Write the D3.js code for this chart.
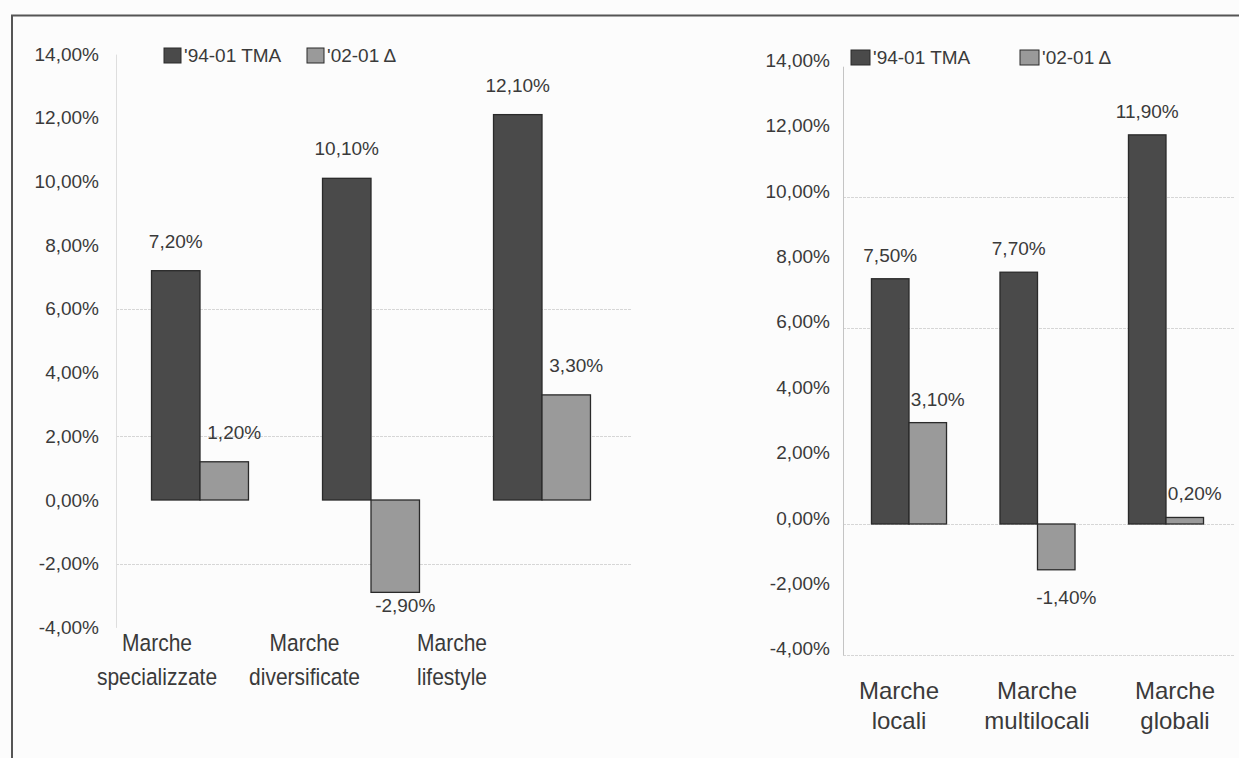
<!DOCTYPE html>
<html>
<head>
<meta charset="utf-8">
<script src="https://cdn.jsdelivr.net/npm/d3@7"></script>
<style>
  html, body { margin: 0; padding: 0; background: #fcfcfc; }
  svg { display: block; }
  text { font-family: "Liberation Sans", Arial, Helvetica, sans-serif; fill: #3a3a3a; }
</style>
</head>
<body>
<svg id="chart" width="1239" height="758"></svg>
<script>
// Series shown in both panels
const seriesNames = ["'94-01 TMA", "'02-01 \u0394"];
const seriesFill = ["#4a4a4a", "#9a9a9a"];

// Left panel: brand types by specialisation
const leftCategories = [["Marche", "specializzate"], ["Marche", "diversificate"], ["Marche", "lifestyle"]];
const leftTMA = [7.2, 10.1, 12.1];
const leftDelta = [1.2, -2.9, 3.3];

// Right panel: brand types by geographic reach
const rightCategories = [["Marche", "locali"], ["Marche", "multilocali"], ["Marche", "globali"]];
const rightTMA = [7.5, 7.7, 11.9];
const rightDelta = [3.1, -1.4, 0.2];

// Y axis ticks (percent)
const tickValues = [14, 12, 10, 8, 6, 4, 2, 0, -2, -4];
const leftGrid = [6, 2, -2];
const rightGrid = [10, 6, 0, -4];

const itLocale = d3.formatLocale({decimal: ",", thousands: ".", grouping: [3], currency: ["\u20ac", ""], minus: "-"});
const fmt2 = itLocale.format(".2f");
const pct = v => fmt2(v) + "%";

const svg = d3.select("#chart");

// Page frame
svg.append("line").attr("x1", 11).attr("x2", 1239).attr("y1", 15.5).attr("y2", 15.5)
  .attr("stroke", "#555").attr("stroke-width", 2);
svg.append("line").attr("x1", 12).attr("x2", 12).attr("y1", 15).attr("y2", 758)
  .attr("stroke", "#555").attr("stroke-width", 2);

function drawPanel(cfg) {
  const cats = cfg.categories.map(c => c.join(" "));
  const rows = cats.map((c, i) => ({cat: c, values: [cfg.tma[i], cfg.delta[i]]}));

  const y = d3.scaleLinear().domain([-4, 14]).range(cfg.yRange);
  const x = d3.scaleBand().domain(cats).range(cfg.xRange)
    .paddingInner(cfg.padInner).paddingOuter(cfg.padInner / 2);
  const xs = d3.scaleBand().domain(d3.range(seriesNames.length)).range([0, x.bandwidth()]);
  const xLabel = d3.scalePoint().domain(cats).range(cfg.labelRange);

  const g = svg.append("g");

  // faint gridlines
  g.selectAll("line.grid").data(cfg.grid).join("line")
    .attr("class", "grid")
    .attr("x1", cfg.axisX).attr("x2", cfg.xRange[1] + 4)
    .attr("y1", d => Math.round(y(d)) + 0.5).attr("y2", d => Math.round(y(d)) + 0.5)
    .attr("stroke", "#d6d6d6").attr("stroke-width", 1).attr("stroke-dasharray", "3,1");

  // y axis
  const axis = d3.axisLeft(y).tickValues(tickValues).tickFormat(pct)
    .tickSize(0).tickPadding(cfg.tickPad);
  const ag = g.append("g").attr("transform", `translate(${cfg.axisX},0)`).call(axis);
  ag.select(".domain").attr("stroke", cfg.axisColor).attr("stroke-width", 1);
  ag.selectAll("text").attr("font-size", 19).attr("fill", "#444")
    .attr("font-family", null).attr("dy", cfg.tickDy);

  // bars
  const grp = g.selectAll("g.cat").data(rows).join("g")
    .attr("class", "cat").attr("transform", d => `translate(${x(d.cat)},0)`);
  grp.selectAll("rect").data(d => d.values.map((v, i) => ({v, i}))).join("rect")
    .attr("x", d => xs(d.i))
    .attr("width", xs.bandwidth())
    .attr("y", d => y(Math.max(0, d.v)))
    .attr("height", d => Math.abs(y(d.v) - y(0)))
    .attr("fill", d => seriesFill[d.i])
    .attr("stroke", "#2a2a2a").attr("stroke-width", 1.3);

  // value labels
  grp.selectAll("text.val").data(d => d.values.map((v, i) => ({v, i}))).join("text")
    .attr("class", "val")
    .attr("text-anchor", "middle")
    .attr("font-size", 19)
    .attr("x", d => xs(d.i) + xs.bandwidth() / 2 + cfg.valDx[d.i])
    .attr("y", d => d.v >= 0 ? y(d.v) - cfg.gapPos : y(d.v) + cfg.gapNeg)
    .text(d => pct(d.v));

  // category labels (two lines each)
  const cl = g.selectAll("text.cat").data(cfg.categories).join("text")
    .attr("class", "cat")
    .attr("text-anchor", "middle")
    .attr("font-size", cfg.catSize)
    .attr("transform", (d, i) => `translate(${xLabel(cats[i])},${cfg.catY}) scale(1,${cfg.catStretch})`);
  cl.selectAll("tspan").data(d => d).join("tspan")
    .attr("x", 0)
    .attr("y", (d, j) => j * cfg.catLine / cfg.catStretch)
    .text(d => d);

  // legend
  const lg = g.selectAll("g.leg").data(seriesNames).join("g")
    .attr("class", "leg")
    .attr("transform", (d, i) => `translate(${cfg.legendX[i]},${cfg.legendY})`);
  lg.append("rect").attr("x", 0).attr("y", -14).attr("width", cfg.swatchW).attr("height", 15)
    .attr("fill", (d, i) => seriesFill[i]).attr("stroke", "#2a2a2a").attr("stroke-width", 1);
  lg.append("text").attr("x", cfg.swatchW + 3).attr("y", 0).attr("font-size", 19).text(d => d);
}

drawPanel({
  categories: leftCategories, tma: leftTMA, delta: leftDelta,
  yRange: [500 + 4 * 31.85, 500 - 14 * 31.85],
  xRange: [114.5, 627.5], padInner: 0.433,
  labelRange: [157, 452],
  grid: leftGrid, axisX: 116, tickPad: 17, tickDy: "0.32em", axisColor: "#dedede",
  valDx: [0, 10], gapPos: 23, gapNeg: 20,
  catSize: 21, catStretch: 1.18, catY: 651, catLine: 34,
  legendX: [164, 307], legendY: 62, swatchW: 17
});

drawPanel({
  categories: rightCategories, tma: rightTMA, delta: rightDelta,
  yRange: [524 + 4 * 32.7, 524 - 14 * 32.7],
  xRange: [844.75, 1230.25], padInner: 0.416,
  labelRange: [899, 1175],
  grid: rightGrid, axisX: 843, tickPad: 13, tickDy: "0.0em", axisColor: "#c4c4c4",
  valDx: [0, 10], gapPos: 17, gapNeg: 34,
  catSize: 24, catStretch: 1.0, catY: 699, catLine: 30,
  legendX: [851, 1020], legendY: 64, swatchW: 19
});
</script>
</body>
</html>
